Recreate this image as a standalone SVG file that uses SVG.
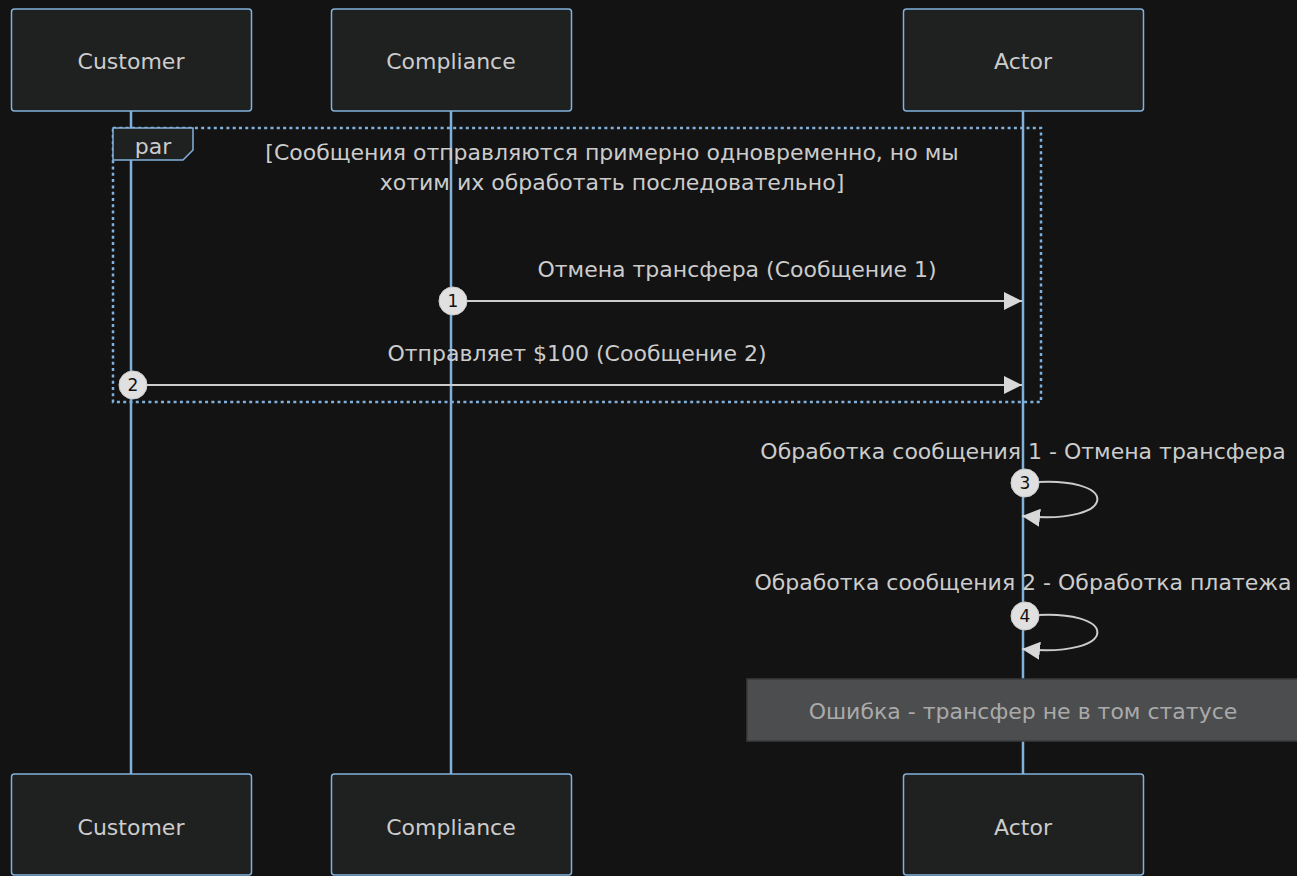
<svg xmlns="http://www.w3.org/2000/svg" width="1297" height="876" viewBox="0 0 1297 876">
  <defs>
    <style>
      .bg { fill: #131313; }
      .actor rect { fill: #1f2020; stroke: #81b1db; stroke-width: 1.5; }
      .actor text, .lbl { font-family: "DejaVu Sans", "Liberation Sans", sans-serif; font-size: 22px; fill: #cccccc; text-anchor: middle; dominant-baseline: central; }
      .life { stroke: #81b1db; stroke-width: 2.5; }
      .msg { stroke: #cccccc; stroke-width: 2; fill: none; }
      .seq circle { fill: #e0e0e0; stroke: #cccccc; }
      .seq text { font-family: "DejaVu Sans", "Liberation Sans", sans-serif; font-size: 17px; fill: #111111; text-anchor: middle; dominant-baseline: central; }
      .frame { fill: none; stroke: #81b1db; stroke-width: 2.5; stroke-dasharray: 3 3.3; }
      .frame-tab { fill: #1f2020; stroke: #81b1db; stroke-width: 1.5; }
      .note rect { fill: #4b4d4e; stroke: #3a3b3c; stroke-width: 1.5; }
      .note text { fill: #aaaaaa; }
    </style>
    <marker id="arrowhead" viewBox="0 0 18 18" refX="18" refY="9" markerWidth="18" markerHeight="18" markerUnits="userSpaceOnUse" orient="auto">
      <path d="M0,0 L18,9 L0,18 z" fill="#d8d8d8"/>
    </marker>
  </defs>

  <rect class="bg" x="0" y="0" width="1297" height="876"/>

  <!-- lifelines -->
  <g id="lifelines">
    <line class="life" x1="131" y1="111" x2="131" y2="774"/>
    <line class="life" x1="451" y1="111" x2="451" y2="774"/>
    <line class="life" x1="1023" y1="111" x2="1023" y2="774"/>
  </g>

  <!-- par frame -->
  <g id="par-frame">
    <rect class="frame" x="113" y="128" width="928" height="274"/>
    <path class="frame-tab" d="M113,128 H193 V150 L183,160 H113 z"/>
    <text class="lbl" x="153" y="146">par</text>
    <text class="lbl" x="612" y="152">[Сообщения отправляются примерно одновременно, но мы</text>
    <text class="lbl" x="612" y="182">хотим их обработать последовательно]</text>
  </g>

  <!-- actors (top) -->
  <g id="actor-customer-top" class="actor">
    <rect x="11.5" y="9" width="240" height="102" rx="3"/>
    <text x="131" y="61">Customer</text>
  </g>
  <g id="actor-compliance-top" class="actor">
    <rect x="331.5" y="9" width="240" height="102" rx="3"/>
    <text x="451" y="61">Compliance</text>
  </g>
  <g id="actor-actor-top" class="actor">
    <rect x="903.5" y="9" width="240" height="102" rx="3"/>
    <text x="1023" y="61">Actor</text>
  </g>

  <!-- actors (bottom) -->
  <g id="actor-customer-bottom" class="actor">
    <rect x="11.5" y="774" width="240" height="101" rx="3"/>
    <text x="131" y="827">Customer</text>
  </g>
  <g id="actor-compliance-bottom" class="actor">
    <rect x="331.5" y="774" width="240" height="101" rx="3"/>
    <text x="451" y="827">Compliance</text>
  </g>
  <g id="actor-actor-bottom" class="actor">
    <rect x="903.5" y="774" width="240" height="101" rx="3"/>
    <text x="1023" y="827">Actor</text>
  </g>

  <!-- messages -->
  <g id="connectors">
    <text class="lbl" x="737" y="269">Отмена трансфера (Сообщение 1)</text>
    <line class="msg" x1="453" y1="301" x2="1022" y2="301" marker-end="url(#arrowhead)"/>

    <text class="lbl" x="577" y="353">Отправляет $100 (Сообщение 2)</text>
    <line class="msg" x1="133" y1="385" x2="1022" y2="385" marker-end="url(#arrowhead)"/>

    <text class="lbl" x="1023" y="451">Обработка сообщения 1 - Отмена трансфера</text>
    <path class="msg" d="M1025,483 C1122,473 1122,526 1022,516" marker-end="url(#arrowhead)"/>

    <text class="lbl" x="1023" y="582">Обработка сообщения 2 - Обработка платежа</text>
    <path class="msg" d="M1025,616 C1122,606 1122,659 1022,649" marker-end="url(#arrowhead)"/>
  </g>

  <!-- sequence numbers -->
  <g id="sequence-numbers" class="seq">
    <circle cx="453" cy="301" r="14"/><text x="453" y="301">1</text>
    <circle cx="133" cy="385" r="14"/><text x="133" y="385">2</text>
    <circle cx="1025" cy="483" r="14"/><text x="1025" y="483">3</text>
    <circle cx="1025" cy="616" r="14"/><text x="1025" y="616">4</text>
  </g>

  <!-- note -->
  <g id="note-error" class="note">
    <rect x="747" y="679" width="560" height="62"/>
    <text class="lbl" x="1023" y="711">Ошибка - трансфер не в том статусе</text>
  </g>
</svg>
